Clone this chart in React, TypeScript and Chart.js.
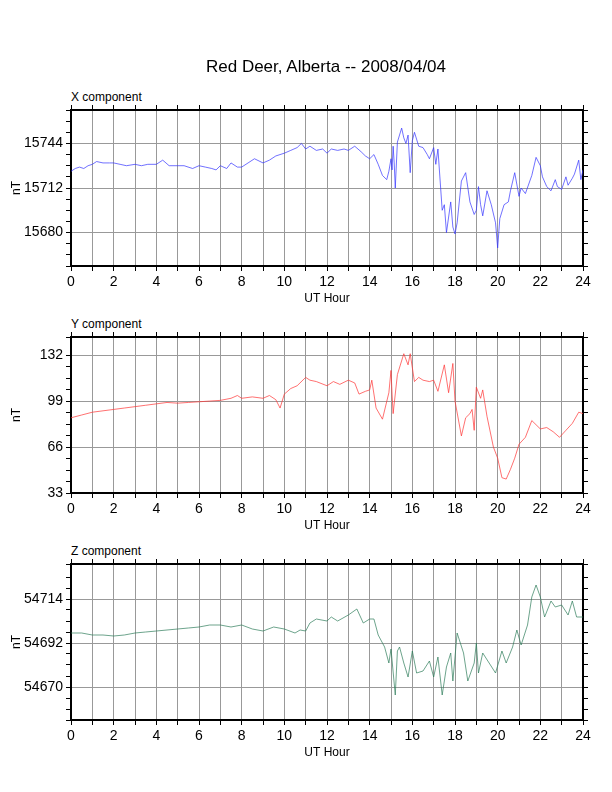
import React, { useEffect, useRef } from "react";
import { Chart, registerables } from "chart.js";
Chart.register(...registerables);

const hourTicks = [0, 2, 4, 6, 8, 10, 12, 14, 16, 18, 20, 22, 24];

const xComp: [number, number][] = [[0,15724],[0.2,15726],[0.4,15727],[0.6,15726],[0.8,15728],[1,15729],[1.2,15731],[1.5,15730],[1.8,15730],[2,15730],[2.3,15729],[2.6,15728],[3,15729],[3.3,15728],[3.6,15729],[4,15729],[4.3,15732],[4.6,15728],[5,15728],[5.3,15728],[5.7,15726],[6,15728],[6.3,15727],[6.6,15726],[6.8,15725],[7,15728],[7.3,15726],[7.5,15730],[7.8,15727],[8,15727],[8.3,15730],[8.6,15733],[9,15730],[9.3,15732],[9.6,15735],[10,15737],[10.3,15739],[10.6,15741],[10.8,15744],[11,15740],[11.2,15742],[11.5,15739],[11.8,15740],[12,15737],[12.2,15740],[12.5,15739],[12.8,15740],[13,15739],[13.3,15742],[13.6,15738],[13.8,15735],[14,15733],[14.2,15736],[14.4,15729],[14.6,15721],[14.8,15718],[14.9,15724],[15,15733],[15.05,15725],[15.1,15742],[15.15,15730],[15.2,15712],[15.3,15745],[15.5,15755],[15.6,15748],[15.7,15744],[15.8,15750],[15.9,15723],[16,15746],[16.1,15752],[16.3,15742],[16.5,15741],[16.7,15736],[16.8,15733],[17,15741],[17.1,15729],[17.2,15740],[17.4,15696],[17.5,15700],[17.6,15680],[17.8,15702],[17.9,15684],[18,15679],[18.1,15687],[18.3,15717],[18.5,15723],[18.7,15702],[18.9,15693],[19,15696],[19.1,15713],[19.2,15700],[19.3,15692],[19.5,15710],[19.7,15700],[19.9,15687],[20,15669],[20.1,15690],[20.3,15700],[20.5,15702],[20.6,15710],[20.8,15723],[21,15706],[21.1,15712],[21.3,15708],[21.6,15721],[21.8,15734],[22,15728],[22.1,15720],[22.3,15713],[22.5,15710],[22.7,15718],[22.8,15713],[23,15711],[23.2,15720],[23.3,15714],[23.5,15719],[23.6,15722],[23.8,15732],[23.9,15718],[24,15725]];

const yComp: [number, number][] = [[0,87],[0.5,89],[1,91],[1.5,92],[2,93],[2.5,94],[3,95],[3.5,96],[4,97],[4.5,98],[5,97.5],[5.5,98],[6,98.5],[6.5,99],[7,99.5],[7.5,101],[7.8,103],[8,101],[8.5,102],[9,101],[9.3,103],[9.6,100],[9.8,94],[10,104],[10.3,108],[10.6,110],[11,116],[11.2,114],[11.5,113],[12,110],[12.3,113],[12.6,111],[13,114],[13.3,112],[13.5,104],[13.8,106],[14,107],[14.1,114],[14.3,94],[14.6,86],[14.9,105],[15,121],[15.05,104],[15.1,90],[15.3,118],[15.6,133],[15.8,125],[15.9,133],[16.1,113],[16.3,116],[16.5,114],[16.8,113],[17,114],[17.2,106],[17.5,125],[17.7,105],[17.9,126],[18,99],[18.3,74],[18.5,87],[18.7,90],[18.8,93],[18.9,78],[19,109],[19.2,101],[19.3,107],[19.5,88],[19.8,66],[20,58],[20.2,44],[20.4,43],[20.6,50],[20.8,58],[21,68],[21.3,73],[21.6,85],[21.8,82],[22,79],[22.3,80],[22.6,77],[22.9,73],[23.2,78],[23.5,83],[23.8,91],[24,90]];

const zComp: [number, number][] = [[0,54697],[0.5,54697],[1,54696],[1.5,54696],[2,54695.5],[2.5,54696],[3,54697],[3.5,54697.5],[4,54698],[4.5,54698.5],[5,54699],[5.5,54699.5],[6,54700],[6.5,54701],[7,54701],[7.5,54700],[8,54701],[8.5,54699],[9,54698],[9.5,54700],[10,54699],[10.5,54697],[10.74,54698.5],[11,54698],[11.2,54702],[11.5,54704],[12,54703],[12.2,54705],[12.5,54703],[13,54706],[13.4,54709],[13.7,54702],[14,54704],[14.2,54704],[14.4,54696],[14.7,54690],[14.9,54682],[15,54689],[15.2,54666],[15.3,54688],[15.4,54690],[15.6,54682],[15.8,54675],[16,54688],[16.2,54677],[16.5,54678],[16.8,54683],[17,54675],[17.2,54685],[17.4,54666],[17.6,54680],[17.8,54687],[17.9,54673],[18.1,54697],[18.4,54687],[18.6,54673],[18.9,54682],[19,54692],[19.1,54677],[19.3,54687],[19.6,54682],[19.9,54677],[20.2,54688],[20.4,54682],[20.7,54690],[20.9,54698.5],[21.1,54691],[21.4,54701],[21.6,54715],[21.8,54721],[22,54715],[22.2,54705],[22.5,54713],[22.7,54710],[23,54711],[23.3,54706],[23.5,54713],[23.7,54705],[24,54705]];

const xLabels = [15680, 15712, 15744];
const yLabels = [33, 66, 99, 132];
const zLabels = [54670, 54692, 54714];

const FONT = "'Liberation Sans', Arial, sans-serif";
const PLOT_H = 156;
const PAD_TOP = 10;
const X_AXIS_H = 40;

type PanelProps = {
  top: number; title: string; data: [number, number][]; color: string;
  min: number; max: number; step: number; labels: number[];
};

function Panel({ top, title, data, color, min, max, step, labels }: PanelProps) {
  const ref = useRef<HTMLCanvasElement>(null);
  useEffect(() => {
    const isLab = (v: number) => labels.some((l) => Math.abs(l - v) < 1e-6);
    const chart = new Chart(ref.current!, {
      type: "line",
      data: { datasets: [{ data: data.map(([x, y]) => ({ x, y })), borderColor: color, borderWidth: 0.7, pointRadius: 0, tension: 0 }] },
      options: {
        animation: false, responsive: false, maintainAspectRatio: false,
        layout: { padding: { top: PAD_TOP, right: 24, left: 9, bottom: 0 } },
        plugins: { legend: { display: false }, tooltip: { enabled: false } },
        scales: {
          x: {
            type: "linear", min: 0, max: 24,
            afterFit: (s: any) => { s.height = X_AXIS_H; },
            ticks: { stepSize: 1, autoSkip: false, maxRotation: 0, color: "#000", font: { family: FONT, size: 14 },
              callback: (v: any) => (hourTicks.includes(v) ? String(v) : "") },
            grid: { color: "#999", tickColor: "#000", tickLength: 5 },
            border: { color: "#000", width: 2 },
            title: { display: true, text: "UT Hour", color: "#000", font: { family: FONT, size: 12 }, padding: 0 },
          },
          x2: {
            type: "linear", position: "top", min: 0, max: 24,
            afterFit: (s: any) => { s.height = 5; },
            ticks: { stepSize: 1, display: false },
            grid: { drawOnChartArea: false, tickColor: "#000", tickLength: 5 },
            border: { color: "#000", width: 2 },
          },
          y: {
            min, max,
            afterFit: (s: any) => { s.width = 62; },
            ticks: { stepSize: step, autoSkip: false, color: "#000", font: { family: FONT, size: 14 },
              callback: (v: any) => (isLab(v) ? String(v) : "") },
            grid: { color: (c: any) => (isLab(c.tick?.value) ? "#999" : "rgba(0,0,0,0)"), tickColor: "#000", tickLength: 5 } as any,
            border: { color: "#000", width: 2 },
            title: { display: true, text: "nT", color: "#000", font: { family: FONT, size: 12 }, padding: 0 },
          },
          y2: {
            position: "right", min, max,
            afterFit: (s: any) => { s.width = 5; },
            ticks: { stepSize: step, display: false },
            grid: { drawOnChartArea: false, tickColor: "#000", tickLength: 5 },
            border: { color: "#000", width: 2 },
          },
        },
      } as any,
    });
    return () => chart.destroy();
  }, []);
  const canvasTop = top - PAD_TOP - 5;
  const h = PAD_TOP + 5 + PLOT_H + X_AXIS_H;
  return (
    <>
      <div style={{ position: "absolute", left: 71, top: top - 20, fontFamily: FONT, fontSize: 12 }}>{title}</div>
      <canvas ref={ref} width={612} height={h}
        style={{ position: "absolute", left: 0, top: canvasTop, width: 612, height: h }} />
    </>
  );
}

export default function App() {
  return (
    <div style={{ position: "fixed", left: 0, top: 0, width: 612, height: 792, background: "#fff" }}>
      <div style={{ position: "absolute", left: 0, width: 652, top: 57, textAlign: "center", fontFamily: FONT, fontSize: 17 }}>
        Red Deer, Alberta -- 2008/04/04
      </div>
      <Panel top={110} title="X component" data={xComp} color="#3333ff" min={15656} max={15768} step={8} labels={xLabels} />
      <Panel top={337} title="Y component" data={yComp} color="#ff3333" min={33} max={145} step={8.25} labels={yLabels} />
      <Panel top={564} title="Z component" data={zComp} color="#2e7d5a" min={54653.5} max={54731.5} step={5.5} labels={zLabels} />
    </div>
  );
}
